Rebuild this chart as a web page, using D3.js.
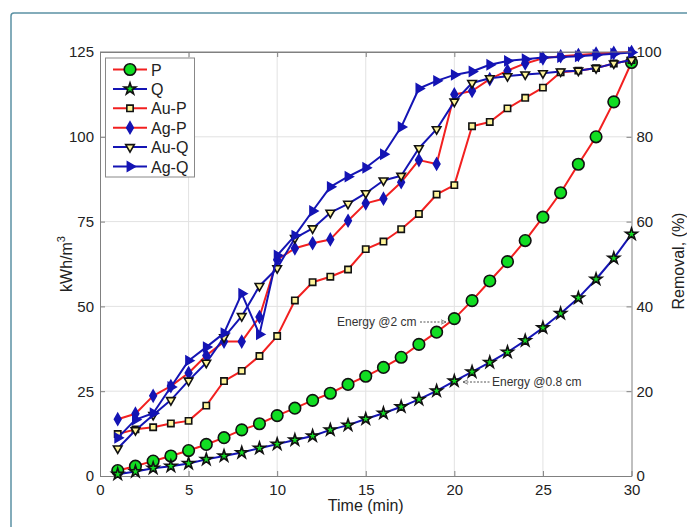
<!DOCTYPE html>
<html><head><meta charset="utf-8">
<script src="https://cdn.jsdelivr.net/npm/d3@7"></script>
<style>
html,body{margin:0;padding:0;background:#fff;}
svg{display:block;font-family:"Liberation Sans",Arial,Helvetica,sans-serif;}
</style></head>
<body><svg id="chart" width="687" height="527"></svg>
<script>
// ---- data ----
const time = d3.range(1, 31);
const xTicks = [0, 5, 10, 15, 20, 25, 30];
const leftTicks = [0, 25, 50, 75, 100, 125];
const rightTicks = [0, 20, 40, 60, 80, 100];
// energy consumption, kWh/m3 (left axis)
const energyP = [1.6, 2.9, 4.4, 5.9, 7.5, 9.3, 11.3, 13.6, 15.4, 17.8, 20.0, 22.3, 24.4, 27.0, 29.4, 32.0, 35.0, 38.8, 42.4, 46.4, 51.7, 57.5, 63.2, 69.4, 76.3, 83.5, 91.9, 100.0, 110.3, 121.9];
const energyQ = [0.5, 1.3, 2.3, 2.9, 3.7, 4.9, 5.9, 6.9, 8.2, 9.4, 10.6, 11.8, 13.6, 15.0, 16.8, 18.5, 20.4, 22.6, 25.1, 28.0, 30.7, 33.5, 36.5, 39.9, 43.7, 47.9, 52.5, 58.0, 64.2, 71.3];
// removal, % (right axis)
const removalAuP = [9.9, 11.0, 11.5, 12.4, 13.0, 16.6, 22.4, 24.8, 28.3, 33.0, 41.4, 45.7, 47.0, 48.7, 53.5, 55.3, 58.2, 61.8, 66.4, 68.6, 82.5, 83.5, 86.7, 89.2, 91.6, 95.2, 95.6, 96.2, 97.3, 98.1];
const removalAgP = [13.4, 14.7, 18.9, 21.2, 24.3, 28.4, 31.7, 31.7, 37.5, 51.0, 53.7, 54.9, 55.8, 60.2, 64.3, 65.4, 69.3, 74.5, 73.6, 90.0, 90.8, 93.6, 95.6, 97.3, 98.5, 99.0, 99.3, 99.6, 99.8, 100.0];
const removalAuQ = [6.5, 10.8, 14.4, 17.9, 22.5, 26.7, 32.7, 37.7, 44.8, 49.0, 56.1, 58.4, 62.1, 64.2, 66.7, 69.7, 70.8, 77.3, 81.8, 88.3, 92.7, 93.8, 94.3, 94.7, 95.0, 95.4, 95.6, 96.2, 97.3, 98.1];
const removalAgQ = [9.0, 13.3, 14.8, 21.0, 27.2, 30.4, 33.7, 43.0, 33.4, 52.0, 56.7, 62.5, 68.2, 70.6, 72.7, 75.9, 82.3, 91.4, 93.2, 94.6, 95.4, 97.0, 97.9, 98.3, 98.7, 98.8, 99.0, 99.3, 99.6, 99.9];
const seriesNames = ["P", "Q", "Au-P", "Ag-P", "Au-Q", "Ag-Q"];

// ---- layout ----
const svg = d3.select("#chart");
const L = 100, R = 631.5, T = 52, B = 476;
const x = d3.scaleLinear().domain([0, 30]).range([L, R]);
const yL = d3.scaleLinear().domain([0, 125]).range([B, T]);
const yR = d3.scaleLinear().domain([0, 100]).range([B, T]);

const RED = "#f22020", BLUE = "#1414b4";
const series = [
  {name: seriesNames[0], vals: energyP, y: yL, line: RED, shape: d3.symbolCircle, size: 105, rot: 0, fill: "#11dd22", stroke: "#111"},
  {name: seriesNames[1], vals: energyQ, y: yL, line: BLUE, shape: d3.symbolStar, size: 42, rot: 0, fill: "#11dd22", stroke: "#111"},
  {name: seriesNames[2], vals: removalAuP, y: yR, line: RED, shape: d3.symbolSquare, size: 40, rot: 0, fill: "#fff59a", stroke: "#111"},
  {name: seriesNames[3], vals: removalAgP, y: yR, line: RED, shape: d3.symbolDiamond, size: 38, rot: 0, fill: BLUE, stroke: BLUE},
  {name: seriesNames[4], vals: removalAuQ, y: yR, line: BLUE, shape: d3.symbolTriangle, size: 32, rot: 180, fill: "#fff59a", stroke: "#111"},
  {name: seriesNames[5], vals: removalAgQ, y: yR, line: BLUE, shape: d3.symbolTriangle, size: 36, rot: 90, fill: BLUE, stroke: BLUE}
];

// outer frame
svg.append("rect").attr("x", 11).attr("y", 13).attr("width", 720).attr("height", 560)
  .attr("rx", 3).attr("fill", "none").attr("stroke", "#5b91a4").attr("stroke-width", 1.5);

// grid
const grid = svg.append("g").attr("stroke", "#e2e2e2").attr("stroke-width", 1);
xTicks.slice(1, -1).forEach(t => grid.append("line").attr("x1", x(t)).attr("x2", x(t)).attr("y1", T).attr("y2", B));
leftTicks.slice(1, -1).forEach(t => grid.append("line").attr("x1", L).attr("x2", R).attr("y1", yL(t)).attr("y2", yL(t)));

// axes
function styleAxis(g) {
  g.select(".domain").attr("stroke", "#808080");
  g.selectAll(".tick line").attr("stroke", "#808080");
  g.selectAll(".tick text").attr("fill", "#222").attr("font-size", 15);
}
svg.append("g").attr("transform", `translate(0,${B})`)
  .call(d3.axisBottom(x).tickValues(xTicks).tickSizeInner(-5).tickSizeOuter(0).tickPadding(8)).call(styleAxis);
svg.append("g").attr("transform", `translate(0,${T})`)
  .call(d3.axisTop(x).tickValues(xTicks).tickSizeInner(-5).tickSizeOuter(0).tickFormat(""))
  .call(styleAxis);
svg.append("g").attr("transform", `translate(${L},0)`)
  .call(d3.axisLeft(yL).tickValues(leftTicks).tickSizeInner(-5).tickSizeOuter(0).tickPadding(6)).call(styleAxis);
svg.append("g").attr("transform", `translate(${R},0)`)
  .call(d3.axisRight(yR).tickValues(rightTicks).tickSizeInner(-5).tickSizeOuter(0).tickPadding(5)).call(styleAxis);

// axis titles
svg.append("text").attr("x", x(15)).attr("y", 511).attr("text-anchor", "middle")
  .attr("font-size", 16).attr("fill", "#222").text("Time (min)");
const yt = svg.append("text").attr("transform", `translate(72,${(T + B) / 2}) rotate(-90)`)
  .attr("text-anchor", "middle").attr("font-size", 16).attr("fill", "#222");
yt.append("tspan").text("kWh/m");
yt.append("tspan").attr("font-size", 11).attr("dy", -7).text("3");
svg.append("text").attr("transform", `translate(684,261) rotate(-90)`)
  .attr("text-anchor", "middle").attr("font-size", 16).attr("fill", "#222").text("Removal, (%)");

// series
const lineGen = (yS) => d3.line().x((d, i) => x(time[i])).y(d => yS(d));
series.forEach(s => {
  svg.append("path").datum(s.vals).attr("d", lineGen(s.y)).attr("fill", "none")
    .attr("stroke", s.line).attr("stroke-width", 2).attr("stroke-linejoin", "round");
  svg.append("g").selectAll("path").data(s.vals).join("path")
    .attr("d", d3.symbol().type(s.shape).size(s.size))
    .attr("transform", (d, i) => `translate(${x(time[i])},${s.y(d)}) rotate(${s.rot})`)
    .attr("fill", s.fill).attr("stroke", s.stroke).attr("stroke-width", 1.6);
});

// annotations
const defs = svg.append("defs");
defs.append("marker").attr("id", "ah").attr("viewBox", "0 0 10 10").attr("refX", 9).attr("refY", 5)
  .attr("markerWidth", 6).attr("markerHeight", 6).attr("orient", "auto-start-reverse")
  .append("path").attr("d", "M0,1 L9,5 L0,9").attr("fill", "none").attr("stroke", "#555").attr("stroke-width", 1.2);
svg.append("text").attr("x", 337).attr("y", 326).attr("font-size", 12).attr("fill", "#333").text("Energy @2 cm");
svg.append("line").attr("x1", 420).attr("x2", 446).attr("y1", 322).attr("y2", 322)
  .attr("stroke", "#555").attr("stroke-width", 1).attr("stroke-dasharray", "2,1.5").attr("marker-end", "url(#ah)");
svg.append("line").attr("x1", 463).attr("x2", 491).attr("y1", 382).attr("y2", 382)
  .attr("stroke", "#555").attr("stroke-width", 1).attr("stroke-dasharray", "2,1.5").attr("marker-start", "url(#ah)");
svg.append("text").attr("x", 492).attr("y", 386).attr("font-size", 12).attr("fill", "#333").text("Energy @0.8 cm");

// plot box top border
svg.append("line").attr("x1", L).attr("x2", R).attr("y1", T).attr("y2", T).attr("stroke", "#808080");

// legend
const lg = svg.append("g");
lg.append("rect").attr("x", 105.5).attr("y", 58).attr("width", 89).attr("height", 119)
  .attr("fill", "#fff").attr("stroke", "#888").attr("stroke-width", 1);
series.forEach((s, i) => {
  const yy = 69.5 + i * 19.4;
  lg.append("line").attr("x1", 113).attr("x2", 147).attr("y1", yy).attr("y2", yy)
    .attr("stroke", s.line).attr("stroke-width", 2);
  lg.append("path").attr("d", d3.symbol().type(s.shape).size(s.size))
    .attr("transform", `translate(130,${yy}) rotate(${s.rot})`)
    .attr("fill", s.fill).attr("stroke", s.stroke).attr("stroke-width", 1.6);
  lg.append("text").attr("x", 151).attr("y", yy + 6).attr("font-size", 16).attr("fill", "#222").text(s.name);
});
</script></body></html>
